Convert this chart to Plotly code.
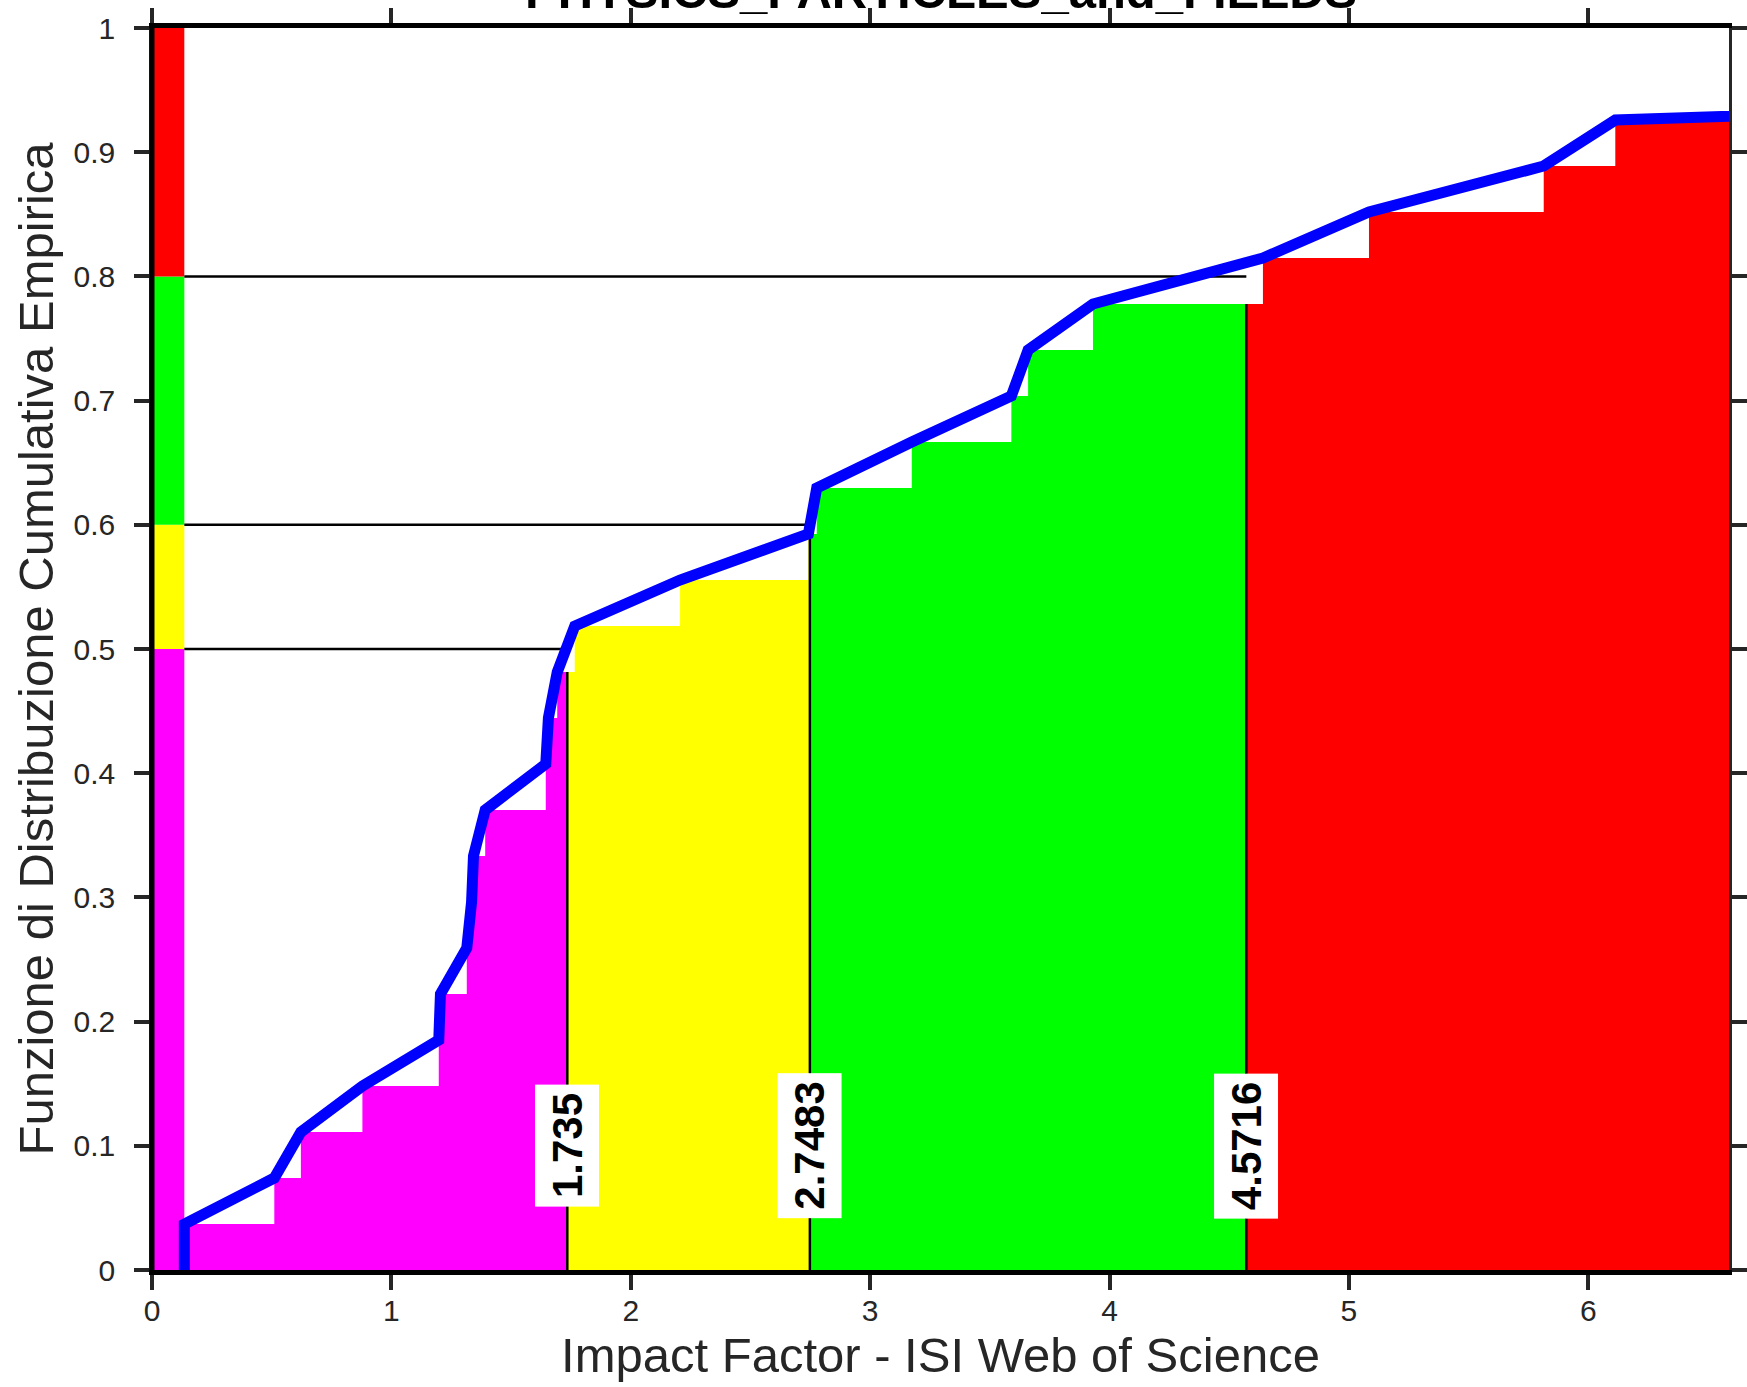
import plotly.graph_objects as go

# ---------------- data ----------------
impact_factors = [0.135, 0.511, 0.622, 0.879, 1.198, 1.205, 1.315, 1.335, 1.343,
                  1.392, 1.645, 1.656, 1.693, 1.766, 2.206, 2.742, 2.777, 3.174,
                  3.590, 3.660, 3.931, 4.641, 5.084, 5.814, 6.113, 12.0, 15.5]
quantile_levels = [0.5, 0.6, 0.8]
thresholds = [1.735, 2.7483, 4.5716]
threshold_labels = ["1.735", "2.7483", "4.5716"]
region_colors = ["#FF00FF", "#FFFF00", "#00FF00", "#FF0000"]
x_range_max = 6.588
x_ticks = [0, 1, 2, 3, 4, 5, 6]
y_ticks = [0, 0.1, 0.2, 0.3, 0.4, 0.5, 0.6, 0.7, 0.8, 0.9, 1]
title_text = "PHYSICS_PARTICLES_and_FIELDS"
x_title = "Impact Factor - ISI Web of Science"
y_title = "Funzione di Distribuzione Cumulativa Empirica"

N = len(impact_factors)


def ecdf(t):
    return sum(1 for v in impact_factors if v <= t) / N


FONT = "Liberation Sans, Arial, Helvetica, sans-serif"
fig = go.Figure()

# ---- coloured step regions under the ECDF ----
bounds = [impact_factors[0]] + thresholds + [impact_factors[-1]]
for k, col in enumerate(region_colors):
    a, b = bounds[k], bounds[k + 1]
    pts = [a] + [v for v in impact_factors if a < v < b]
    ys = [ecdf(p) for p in pts]
    pts = pts + [b]
    ys = ys + [ys[-1]]
    fig.add_trace(go.Scatter(x=pts, y=ys, mode="lines", line=dict(width=0, shape="hv"),
                             fill="tozeroy", fillcolor=col, hoverinfo="skip",
                             showlegend=False))

# ---- left colour strip (quantile bands) ----
levels = [0] + quantile_levels + [1]
for k, col in enumerate(region_colors):
    lo, hi = levels[k], levels[k + 1]
    fig.add_trace(go.Scatter(x=[0, impact_factors[0], impact_factors[0], 0, 0],
                             y=[lo, lo, hi, hi, lo], mode="lines",
                             line=dict(width=0), fill="toself", fillcolor=col,
                             hoverinfo="skip", showlegend=False))

# ---- black guide lines ----
for q, t in zip(quantile_levels, thresholds):
    fig.add_trace(go.Scatter(x=[impact_factors[0], t], y=[q, q], mode="lines",
                             line=dict(color="black", width=2.5),
                             hoverinfo="skip", showlegend=False))
    fig.add_trace(go.Scatter(x=[t, t], y=[0, ecdf(t)], mode="lines",
                             line=dict(color="black", width=2.5),
                             hoverinfo="skip", showlegend=False))

# ---- ECDF line ----
fig.add_trace(go.Scatter(x=[impact_factors[0]] + impact_factors,
                         y=[0] + [(i + 1) / N for i in range(N)],
                         mode="lines", line=dict(color="#0000FF", width=11),
                         showlegend=False))

# ---- threshold labels ----
for t, lab in zip(thresholds, threshold_labels):
    fig.add_annotation(x=t, y=0.1, xref="x", yref="y", text=f"<b>{lab}</b>",
                       showarrow=False, textangle=-90, bgcolor="white",
                       borderpad=8, font=dict(family=FONT, size=42, color="black"))

# ---- title (clipped at top like the reference) ----
fig.add_annotation(x=0.5, y=1.0294, xref="paper", yref="paper",
                   text=f"<b>{title_text}</b>", showarrow=False,
                   xanchor="center", yanchor="middle",
                   font=dict(family=FONT, size=49, color="black"))

# thick left spine
fig.add_shape(type="line", xref="x domain", yref="y domain", x0=0, x1=0, y0=0, y1=1,
              line=dict(color="black", width=5))

fig.update_layout(
    width=1747, height=1387,
    margin=dict(l=152, r=18, t=28, b=117, autoexpand=False),
    paper_bgcolor="white", plot_bgcolor="white",
    font=dict(family=FONT, color="#262626"),
    showlegend=False,
)
fig.update_xaxes(range=[0, x_range_max], tickvals=x_ticks, showgrid=False, zeroline=False,
                 automargin=False,
                 showline=True, linewidth=5, linecolor="black", mirror="ticks",
                 ticks="outside", ticklen=15, tickwidth=4, tickcolor="#262626",
                 ticklabelstandoff=-5,
                 tickfont=dict(family=FONT, size=30, color="#262626"),
                 title=dict(text=x_title, font=dict(family=FONT, size=49, color="#262626"),
                            standoff=13))
fig.update_yaxes(range=[0, 1], tickvals=y_ticks, showgrid=False, zeroline=False,
                 automargin=False,
                 showline=True, linewidth=2.5, linecolor="#262626", mirror="ticks",
                 ticks="outside", ticklen=15, tickwidth=4, tickcolor="#262626",
                 ticklabelstandoff=13,
                 tickfont=dict(family=FONT, size=30, color="#262626"),
                 title=dict(text=y_title, font=dict(family=FONT, size=49, color="#262626"),
                            standoff=5))

fig.write_html("out.html", config={"displayModeBar": False},
               post_script="document.body.style.margin='0px';document.body.style.overflow='hidden';")
